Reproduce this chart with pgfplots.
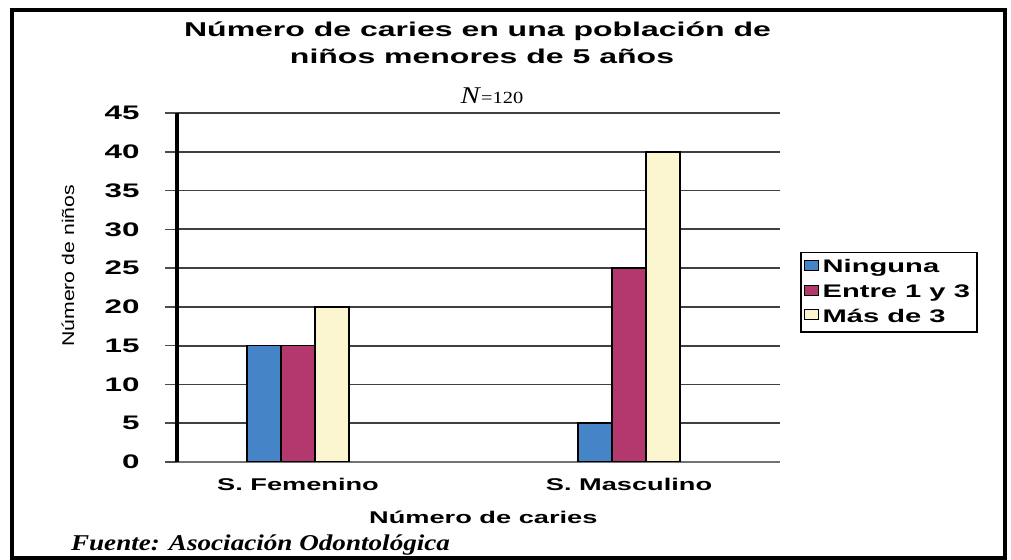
\documentclass[border=0pt]{standalone}
\usepackage{pgfplots}
\pgfplotsset{compat=1.18}
\usepackage{fontspec}
\setmainfont{Liberation Sans}
\newfontfamily\wf[FakeStretch=1.6]{Liberation Sans}
\newfontfamily\yf[FakeStretch=1.25]{Liberation Sans}
\newfontfamily\srf[FakeStretch=1.2]{Liberation Serif}
\definecolor{cBlue}{RGB}{70,132,200}
\definecolor{cMag}{RGB}{178,56,110}
\definecolor{cCream}{RGB}{251,245,208}
\begin{document}
\begin{tikzpicture}
\useasboundingbox (0,0) rectangle (505.5pt,280pt);
\draw[line width=2pt] (6pt,1pt) rectangle (502.5pt,275pt);
\begin{axis}[
  at={(88.5pt,49pt)}, anchor=south west,
  scale only axis, width=301.5pt, height=174.5pt,
  ybar=0pt, bar width=17pt,
  xmin=-0.3656, xmax=1.4562, ymin=0, ymax=45,
  xtick={0,1}, xticklabels={S. Femenino, S. Masculino},
  ytick={0,5,...,45},
  /pgf/number format/assume math mode=true,
  axis y line*=left, axis x line*=bottom,
  axis line style={-},
  y axis line style={black, line width=2pt},
  x axis line style={black!55, line width=1.2pt},
  ymajorgrids, major grid style={black!75, line width=0.9pt},
  tick align=outside, major tick length=6pt,
  ytick style={black!70, line width=0.8pt},
  major x tick style={draw=none},
  yticklabel style={font=\wf\fontsize{9.8}{11}\selectfont\bfseries, xshift=-9.2pt},
  xticklabel style={font=\wf\fontsize{8.5}{10}\selectfont\bfseries, yshift=1.5pt},
  xlabel={\wf\fontsize{8.5}{10}\selectfont\bfseries Número de caries},
  ylabel={\yf\fontsize{8.5}{10}\selectfont Número de niños},
  xlabel style={at={(axis description cs:0.508,-0.158)}, anchor=center},
  ylabel style={at={(axis description cs:-0.181,0.562)}, anchor=center, rotate=0},
  legend style={at={(axis description cs:1.033,0.602)}, anchor=north west,
    draw=black, line width=0.8pt, font=\wf\fontsize{9.1}{10}\selectfont\bfseries,
    inner sep=1.5pt, row sep=0.3pt, cells={anchor=west}},
  legend image code/.code={\draw[#1, line width=0.5pt] (0pt,-1.5pt) rectangle (7pt,3.5pt);},
]
\addplot[fill=cBlue, draw=black, line width=0.8pt] coordinates {(0,15) (1,5)};
\addplot[fill=cMag, draw=black, line width=0.8pt] coordinates {(0,15) (1,25)};
\addplot[fill=cCream, draw=black, line width=0.8pt] coordinates {(0,20) (1,40)};
\legend{Ninguna, Entre 1 y 3, Más de 3}
\end{axis}
\node[font=\wf\fontsize{10}{12}\selectfont\bfseries] at (238.75pt,264.5pt) {Número de caries en una población de};
\node[font=\wf\fontsize{10}{12}\selectfont\bfseries] at (241pt,252pt) {niños menores de 5 años};
\node[font=\srf] at (246pt,232pt) {{\fontsize{12}{12}\selectfont\textit{N}}{\fontsize{8.5}{10}\selectfont =120}};
\node[anchor=west, font=\srf\fontsize{11.3}{13}\selectfont\bfseries\itshape] at (32pt,7.5pt) {Fuente: Asociación Odontológica};
\end{tikzpicture}
\end{document}
